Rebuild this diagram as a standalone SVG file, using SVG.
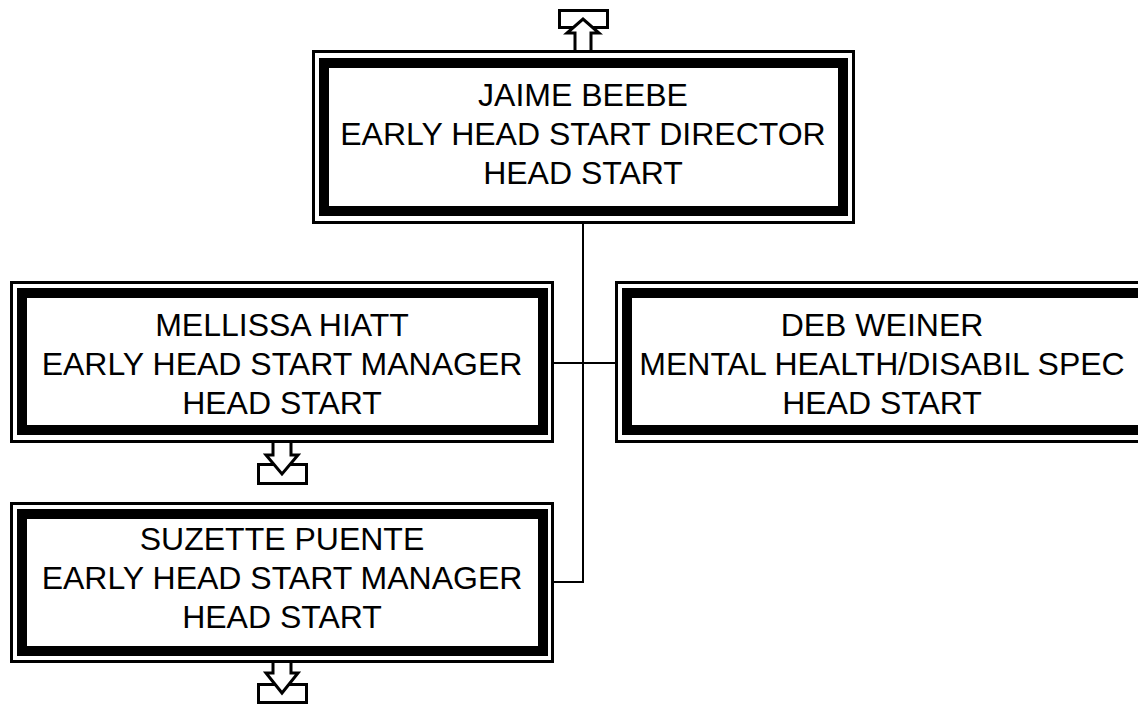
<svg xmlns="http://www.w3.org/2000/svg" width="1138" height="705" viewBox="0 0 1138 705">
<defs>
<style>
.thin{fill:none;stroke:#000;stroke-width:3}
.thick{fill:#fff;stroke:#000;stroke-width:10}
.t{font-family:"Liberation Sans",Arial,sans-serif;font-size:32px;fill:#000;text-anchor:middle}
.conn{fill:none;stroke:#000;stroke-width:2}
.icon{fill:#fff;stroke:#000;stroke-width:3;stroke-linejoin:miter}
</style>
</defs>
<rect x="0" y="0" width="1138" height="705" fill="#fff"/>
<g id="connectors">
<path class="conn" d="M583 224 V582 H554"/>
<path class="conn" d="M554 363 H615"/>
</g>
<g id="node-jaime">
<rect class="thin" x="313.5" y="51.5" width="540" height="171"/>
<rect class="thick" x="324" y="63" width="519" height="148"/>
<text class="t" x="583" y="106">JAIME BEEBE</text>
<text class="t" x="583" y="145">EARLY HEAD START DIRECTOR</text>
<text class="t" x="583" y="184">HEAD START</text>
<rect class="icon" x="559.5" y="10.5" width="48" height="17"/>
<path class="icon" d="M575 50 V33 H567 L583 19 L599 33 H591 V50"/>
</g>
<g id="node-mellissa">
<rect class="thin" x="11.5" y="282.5" width="541" height="159"/>
<rect class="thick" x="22" y="293" width="521" height="137"/>
<text class="t" x="282" y="336">MELLISSA HIATT</text>
<text class="t" x="282" y="375">EARLY HEAD START MANAGER</text>
<text class="t" x="282" y="414">HEAD START</text>
<rect class="icon" x="258.5" y="464.5" width="48" height="19"/>
<path class="icon" d="M273 443 V455 H266 L282 474 L298 455 H291 V443"/>
</g>
<g id="node-deb">
<rect class="thin" x="616.5" y="282.5" width="541" height="159"/>
<rect class="thick" x="627" y="293" width="521" height="137"/>
<text class="t" x="882" y="336">DEB WEINER</text>
<text class="t" x="882" y="375">MENTAL HEALTH/DISABIL SPEC</text>
<text class="t" x="882" y="414">HEAD START</text>
</g>
<g id="node-suzette">
<rect class="thin" x="11.5" y="503.5" width="541" height="158"/>
<rect class="thick" x="22" y="514" width="521" height="137"/>
<text class="t" x="282" y="550">SUZETTE PUENTE</text>
<text class="t" x="282" y="589">EARLY HEAD START MANAGER</text>
<text class="t" x="282" y="628">HEAD START</text>
<rect class="icon" x="258.5" y="684.5" width="48" height="18"/>
<path class="icon" d="M273 663 V673 H266 L282 693 L298 673 H291 V663"/>
</g>
</svg>
